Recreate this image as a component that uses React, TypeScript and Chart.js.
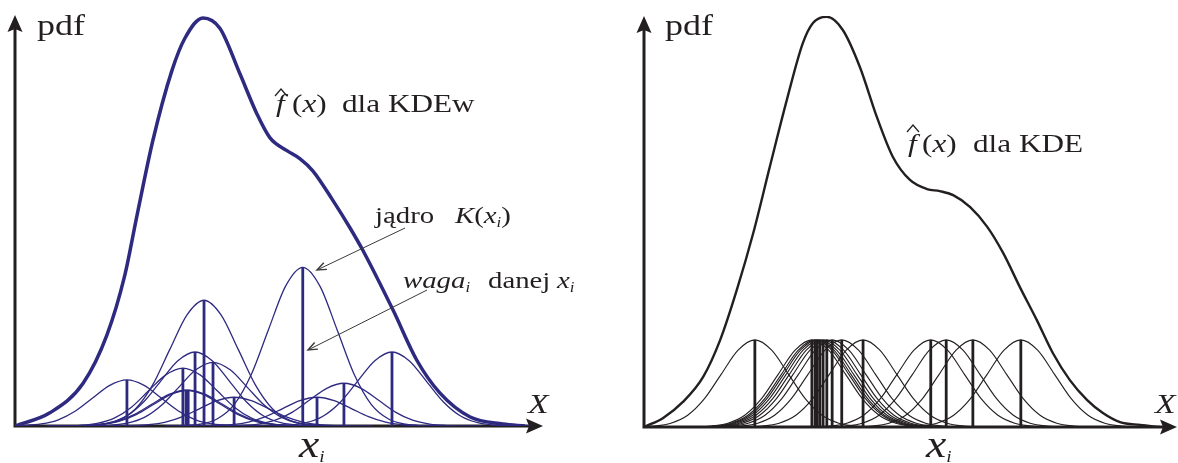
import React, { useEffect, useRef } from "react";
import { Chart, registerables } from "chart.js";

Chart.register(...registerables);

// ---------- data (x: 0..100 along the X axis, y: 0..1 pdf) ----------
// Left chart: weighted KDE (KDEw)
const LEFT_CENTERS = [21.2, 31.8, 32.4, 32.8, 34.1, 35.8, 37.5, 41.5, 54.5, 57.2, 62.3, 71.4];
const LEFT_WEIGHTS = [0.112, 0.141, 0.087, 0.087, 0.18, 0.306, 0.155, 0.07, 0.386, 0.07, 0.104, 0.18];
const LEFT_ENV_X = [0, 6.6, 12.9, 17.4, 20.8, 23.1, 26.1, 29.7, 32.2, 35.6, 38.8, 42.6, 45.8, 48.3, 51.5, 54.0, 56.4, 60.2, 63.4, 65.9, 71.6, 76.1, 80.5, 86.2, 92.4, 96.6];
const LEFT_ENV_Y = [0, 0.032, 0.104, 0.221, 0.367, 0.512, 0.694, 0.864, 0.944, 0.993, 0.968, 0.857, 0.76, 0.701, 0.67, 0.65, 0.621, 0.549, 0.483, 0.427, 0.282, 0.16, 0.08, 0.022, 0.005, 0];
const LEFT_BANDWIDTH = 6.5;

// Right chart: classic KDE (equal kernels)
const RIGHT_CENTERS = [20.8, 31.5, 32.1, 32.5, 33.0, 33.6, 34.3, 35.3, 37.1, 41.1, 53.8, 56.7, 61.7, 70.7];
const RIGHT_KERNEL_HEIGHT = 0.212;
const RIGHT_ENV_X = [0, 3.6, 7.3, 11.1, 14.3, 17.4, 20.5, 23.6, 26.8, 29.8, 31.7, 34.3, 37.3, 40.5, 43.7, 46.7, 49.9, 53.1, 55.5, 58.0, 61.2, 64.4, 67.4, 70.5, 73.7, 76.7, 79.9, 83.1, 86.1, 89.3, 93.1, 96.8];
const RIGHT_ENV_Y = [0, 0.022, 0.061, 0.122, 0.212, 0.333, 0.472, 0.633, 0.796, 0.934, 0.983, 0.998, 0.966, 0.876, 0.754, 0.657, 0.601, 0.579, 0.574, 0.564, 0.535, 0.487, 0.423, 0.341, 0.26, 0.18, 0.114, 0.066, 0.034, 0.012, 0.005, 0];
const RIGHT_BANDWIDTH = 6.3;

// kernel shape (offset in bandwidths -> relative height)
const KERNEL_OFFSETS = [-4, -3.5, -3, -2.5, -2, -1.5, -1, -0.5, 0, 0.5, 1, 1.5, 2, 2.5, 3, 3.5, 4];
const KERNEL_PROFILE = [0, 0.002, 0.011, 0.044, 0.135, 0.325, 0.607, 0.882, 1, 0.882, 0.607, 0.325, 0.135, 0.044, 0.011, 0.002, 0];

// ---------- styling ----------
const SERIF = '"Liberation Serif", "Times New Roman", serif';
const INK = "#231f20";
const NAVY = "#2e2a80";
const SX = 1.2;

type Run = { t: string; size: number; italic?: boolean; dy?: number };
type Label = { x: number; y: number; runs: Run[] };
type Arrow = { x1: number; y1: number; x2: number; y2: number };

function drawRuns(ctx: CanvasRenderingContext2D, x: number, y: number, runs: Run[]) {
  let cx = x;
  for (const r of runs) {
    ctx.font = `${r.italic ? "italic " : ""}${r.size}px ${SERIF}`;
    ctx.save();
    ctx.translate(cx, y + (r.dy || 0));
    ctx.scale(SX, 1);
    ctx.fillText(r.t, 0, 0);
    ctx.restore();
    cx += ctx.measureText(r.t).width * SX;
  }
}

const decorPlugin = {
  id: "decor",
  beforeDatasetsDraw(chart: any) {
    const ctx: CanvasRenderingContext2D = chart.ctx;
    const xs = chart.scales.x;
    const ys = chart.scales.y;
    const x0 = xs.getPixelForValue(0);
    const y0 = ys.getPixelForValue(0);
    const xr = xs.getPixelForValue(100);
    const yt = ys.getPixelForValue(1);
    ctx.save();
    ctx.strokeStyle = INK;
    ctx.fillStyle = INK;
    ctx.lineWidth = 3;
    ctx.beginPath();
    ctx.moveTo(x0, y0 + 1.5);
    ctx.lineTo(x0, yt + 10);
    ctx.moveTo(x0 - 1.5, y0);
    ctx.lineTo(xr - 10, y0);
    ctx.stroke();
    ctx.beginPath();
    ctx.moveTo(x0, yt);
    ctx.lineTo(x0 - 7.5, yt + 17);
    ctx.lineTo(x0, yt + 14);
    ctx.lineTo(x0 + 7.5, yt + 17);
    ctx.closePath();
    ctx.fill();
    ctx.beginPath();
    ctx.moveTo(xr, y0);
    ctx.lineTo(xr - 17, y0 - 7.5);
    ctx.lineTo(xr - 14, y0);
    ctx.lineTo(xr - 17, y0 + 7.5);
    ctx.closePath();
    ctx.fill();
    ctx.restore();
  },
  afterDatasetsDraw(chart: any, _a: any, opts: any) {
    const ctx: CanvasRenderingContext2D = chart.ctx;
    ctx.save();
    ctx.fillStyle = INK;
    ctx.strokeStyle = INK;
    ctx.textBaseline = "alphabetic";
    (opts.labels || []).forEach((l: Label) => drawRuns(ctx, l.x, l.y, l.runs));
    if (opts.hat) {
      const h = opts.hat;
      ctx.lineWidth = 1.2;
      ctx.beginPath();
      ctx.moveTo(h.x - 6, h.y + 7);
      ctx.lineTo(h.x, h.y);
      ctx.lineTo(h.x + 6, h.y + 7);
      ctx.stroke();
    }
    (opts.arrows || []).forEach((a: Arrow) => {
      ctx.lineWidth = 1;
      ctx.strokeStyle = "#3a3a3a";
      ctx.beginPath();
      ctx.moveTo(a.x1, a.y1);
      ctx.lineTo(a.x2, a.y2);
      ctx.stroke();
      const ang = Math.atan2(a.y2 - a.y1, a.x2 - a.x1);
      const L = 10;
      ctx.lineWidth = 1.4;
      ctx.beginPath();
      ctx.moveTo(a.x2 - L * Math.cos(ang - 0.38), a.y2 - L * Math.sin(ang - 0.38));
      ctx.lineTo(a.x2, a.y2);
      ctx.lineTo(a.x2 - L * Math.cos(ang + 0.38), a.y2 - L * Math.sin(ang + 0.38));
      ctx.stroke();
    });
    ctx.restore();
  },
};

function kernelData(c: number, h: number, bw: number) {
  return KERNEL_OFFSETS.map((o, k) => ({ x: c + o * bw, y: h * KERNEL_PROFILE[k] }));
}

function buildDatasets(centers: number[], heights: number[], bw: number, envX: number[], envY: number[], color: string, envWidth: number, kernelWidth: number) {
  const ds: any[] = [];
  centers.forEach((c, i) => {
    ds.push({
      data: kernelData(c, heights[i], bw),
      showLine: true,
      pointRadius: 0,
      borderColor: color,
      borderWidth: kernelWidth,
      cubicInterpolationMode: "monotone",
      fill: false,
    });
  });
  centers.forEach((c, i) => {
    ds.push({
      data: [
        { x: c, y: 0 },
        { x: c, y: heights[i] },
      ],
      showLine: true,
      pointRadius: 0,
      borderColor: color,
      borderWidth: 2.8,
      fill: false,
    });
  });
  ds.push({
    data: envX.map((x, i) => ({ x, y: envY[i] })),
    showLine: true,
    pointRadius: 0,
    borderColor: color,
    borderWidth: envWidth,
    cubicInterpolationMode: "monotone",
    fill: false,
  });
  return ds;
}

function makeConfig(datasets: any[], padding: any, decor: any) {
  return {
    type: "scatter",
    data: { datasets },
    options: {
      animation: false,
      responsive: false,
      maintainAspectRatio: false,
      events: [],
      layout: { padding },
      scales: {
        x: { type: "linear", min: 0, max: 100, display: false },
        y: { type: "linear", min: 0, max: 1, display: false },
      },
      plugins: { legend: { display: false }, tooltip: { enabled: false }, decor },
    },
    plugins: [decorPlugin],
  } as any;
}

const LEFT_W = 590;
const RIGHT_W = 588;
const H = 463;

export default function App() {
  const leftRef = useRef<HTMLCanvasElement>(null);
  const rightRef = useRef<HTMLCanvasElement>(null);

  useEffect(() => {
    const leftDs = buildDatasets(LEFT_CENTERS, LEFT_WEIGHTS, LEFT_BANDWIDTH, LEFT_ENV_X, LEFT_ENV_Y, NAVY, 3.5, 1.3);
    const rightDs = buildDatasets(
      RIGHT_CENTERS,
      RIGHT_CENTERS.map(() => RIGHT_KERNEL_HEIGHT),
      RIGHT_BANDWIDTH,
      RIGHT_ENV_X,
      RIGHT_ENV_Y,
      INK,
      2.4,
      1.1
    );
    const leftDecor = {
      labels: [
        { x: 37, y: 35, runs: [{ t: "pdf", size: 30 }] },
        { x: 528, y: 413, runs: [{ t: "X", size: 28, italic: true }] },
        { x: 299, y: 457, runs: [{ t: "x", size: 38, italic: true }, { t: "i", size: 16, italic: true, dy: 5 }] },
        { x: 276, y: 112, runs: [{ t: "f", size: 26, italic: true }] },
        { x: 292, y: 112, runs: [{ t: "(", size: 26 }, { t: "x", size: 26, italic: true }, { t: ")", size: 26 }] },
        { x: 342, y: 112, runs: [{ t: "dla KDEw", size: 26 }] },
        { x: 375, y: 223, runs: [{ t: "jądro", size: 24 }] },
        {
          x: 455,
          y: 223,
          runs: [
            { t: "K", size: 24, italic: true },
            { t: "(", size: 24 },
            { t: "x", size: 24, italic: true },
            { t: "i", size: 14, italic: true, dy: 4 },
            { t: ")", size: 24 },
          ],
        },
        { x: 403, y: 288, runs: [{ t: "waga", size: 24, italic: true }, { t: "i", size: 14, italic: true, dy: 4 }] },
        { x: 488, y: 288, runs: [{ t: "danej", size: 24 }] },
        { x: 557, y: 288, runs: [{ t: "x", size: 24, italic: true }, { t: "i", size: 14, italic: true, dy: 4 }] },
      ],
      hat: { x: 281, y: 89 },
      arrows: [
        { x1: 405, y1: 228, x2: 317, y2: 270 },
        { x1: 427, y1: 290, x2: 308, y2: 350 },
      ],
    };
    const rightDecor = {
      labels: [
        { x: 75, y: 35, runs: [{ t: "pdf", size: 30 }] },
        { x: 565, y: 413, runs: [{ t: "X", size: 28, italic: true }] },
        { x: 336, y: 457, runs: [{ t: "x", size: 38, italic: true }, { t: "i", size: 16, italic: true, dy: 5 }] },
        { x: 318, y: 152, runs: [{ t: "f", size: 26, italic: true }] },
        { x: 332, y: 152, runs: [{ t: "(", size: 26 }, { t: "x", size: 26, italic: true }, { t: ")", size: 26 }] },
        { x: 383, y: 152, runs: [{ t: "dla KDE", size: 26 }] },
      ],
      hat: { x: 323, y: 125 },
      arrows: [],
    };
    const left = new Chart(leftRef.current!, makeConfig(leftDs, { left: 15, right: LEFT_W - 543, top: 15, bottom: H - 426 }, leftDecor));
    const right = new Chart(rightRef.current!, makeConfig(rightDs, { left: 54, right: RIGHT_W - 587, top: 16, bottom: H - 427 }, rightDecor));
    return () => {
      left.destroy();
      right.destroy();
    };
  }, []);

  return (
    <div style={{ position: "absolute", left: 0, top: 0, width: 1178, height: H, background: "#fff" }}>
      <canvas ref={leftRef} width={LEFT_W} height={H} style={{ position: "absolute", left: 0, top: 0, width: LEFT_W, height: H }} />
      <canvas ref={rightRef} width={RIGHT_W} height={H} style={{ position: "absolute", left: LEFT_W, top: 0, width: RIGHT_W, height: H }} />
    </div>
  );
}
